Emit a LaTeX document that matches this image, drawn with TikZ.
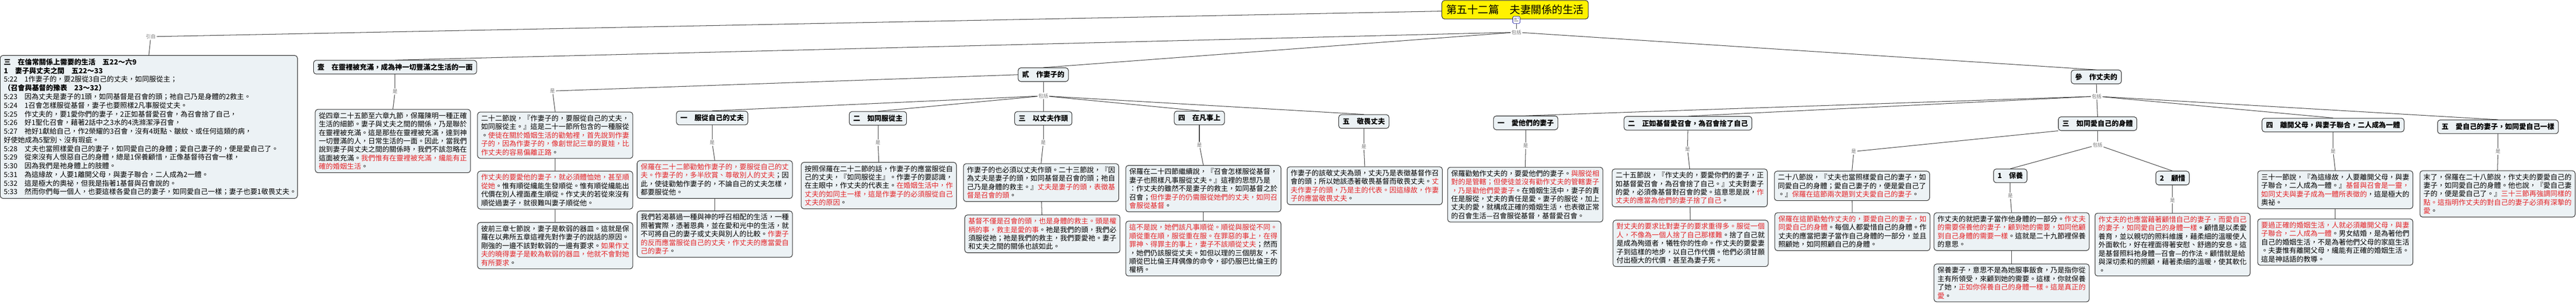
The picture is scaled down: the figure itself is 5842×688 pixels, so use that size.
\documentclass[tikz,border=0pt]{standalone}
\usepackage{fontspec}
\setmainfont{Noto Sans CJK TC}
\usepackage{tikz}

\definecolor{boxbg}{RGB}{236,242,245}
\definecolor{rednote}{RGB}{228,36,40}
\newcommand{\rd}[1]{\textcolor{rednote}{#1}}

\begin{document}
\begin{tikzpicture}[x=0.5pt,y=-0.5pt,
  topic/.style={draw=black!85,fill=boxbg,rounded corners=3pt,line width=0.6pt,
    font=\bfseries\fontsize{8}{9.6}\selectfont,inner xsep=4.5pt,inner ysep=0pt,
    minimum height=15.5pt,anchor=north},
  expl/.style={draw=black!85,fill=boxbg,rounded corners=3pt,line width=0.6pt,
    font=\fontsize{8}{9.6}\selectfont,text width=168pt,align=left,
    inner xsep=4pt,inner ysep=3.3pt,anchor=north},
  rel/.style={font=\fontsize{5.5}{6}\selectfont,text=black!55,inner sep=1pt},
  link/.style={draw=black!75,line width=0.6pt}]
  \useasboundingbox (0,0) rectangle (5842,688);

  % central topic
  \node[draw=black!85,fill=yellow,rounded corners=3pt,line width=0.6pt,
    font=\fontsize{12}{14}\selectfont,minimum height=21pt,inner xsep=5pt] (root) at (3436,22)
    {第五十二篇　夫妻關係的生活};
  \node[draw=blue!60!black,fill=white,rounded corners=1pt,minimum size=8pt,inner sep=0pt,
    path picture={\draw[black!60,line width=0.4pt] ([xshift=1.5pt,yshift=-2pt]path picture bounding box.north west) -- ++(3pt,0)
      ++(-3pt,-1.5pt) -- ++(3pt,0) ++(-3pt,-1.5pt) -- ++(4.5pt,0);
      \fill[blue!40] ([xshift=-1pt,yshift=-1pt]path picture bounding box.north east) rectangle ++(-2pt,-2pt);}] (note) at (3439,45) {};
  \node[rel] (inc0) at (3439,73) {包括};

  % verses
  \node[rel] (quote) at (342,83) {引自};
  \node[draw=black!85,fill=boxbg,rounded corners=3pt,line width=0.6pt,anchor=north,
    font=\fontsize{8}{9.8}\selectfont,text width=329pt,align=left,inner xsep=4pt,inner ysep=3.5pt]
    (verses) at (337.5,125) {%
    \textbf{三　在倫常關係上需要的生活　五22～六9}\\
    \textbf{1　妻子與丈夫之間　五22～33}\\
    5:22　1作妻子的，要2服從3自己的丈夫，如同服從主；\\
    \textbf{（召會與基督的豫表　23～32）}\\
    5:23　因為丈夫是妻子的1頭，如同基督是召會的頭；祂自己乃是身體的2救主。\\
    5:24　1召會怎樣服從基督，妻子也要照樣2凡事服從丈夫。\\
    5:25　作丈夫的，要1愛你們的妻子，2正如基督愛召會，為召會捨了自己，\\
    5:26　好1聖化召會，藉著2話中之3水的4洗滌潔淨召會，\\
    5:27　祂好1獻給自己，作2榮耀的3召會，沒有4斑點、皺紋、或任何這類的病，\\
    好使她成為5聖別、沒有瑕疵。\\
    5:28　丈夫也當照樣愛自己的妻子，如同愛自己的身體；愛自己妻子的，便是愛自己了。\\
    5:29　從來沒有人恨惡自己的身體，總是1保養顧惜，正像基督待召會一樣，\\
    5:30　因為我們是祂身體上的肢體。\\
    5:31　為這緣故，人要1離開父母，與妻子聯合，二人成為2一體。\\
    5:32　這是極大的奧祕，但我是指著1基督與召會說的。\\
    5:33　然而你們每一個人，也要這樣各愛自己的妻子，如同愛自己一樣；妻子也要1敬畏丈夫。};

  % 壹
  \node[topic] (w1) at (896,136) {壹　在靈裡被充滿，成為神一切豐滿之生活的一面};
  \node[rel] (w1is) at (896,207) {是};
  \node[expl] (w1a) at (891,247) {從四章二十五節至六章九節，保羅陳明一種正確\\
    生活的細節。妻子與丈夫之間的關係，乃是聯於\\在靈裡被充滿。這是那些在靈裡被充滿，達到神\\
    一切豐滿的人，日常生活的一面。因此，當我們\\說到妻子與丈夫之間的關係時，我們不該忽略在\\
    這面被充滿。\rd{我們惟有在靈裡被充滿，纔能有正}\\\rd{確的婚姻生活}。};

  % 貳
  \node[topic] (w2) at (2366,153) {貳　作妻子的};
  \node[rel] (w2is) at (1253,206) {是};
  \node[expl] (w2a) at (1259,253) {二十二節說，『作妻子的，要服從自己的丈夫，\\
    如同服從主。』這是二十一節所包含的一種服從\\。\rd{使徒在關於婚姻生活的勸勉裡，首先說到作妻}\\
    \rd{子的，因為作妻子的，像創世記三章的夏娃，比}\\\rd{作丈夫的容易偏離正路}。};
  \node[expl] (w2b) at (1259,387) {\rd{作丈夫的要愛他的妻子，就必須體恤她，甚至順}\\
    \rd{從她}。惟有順從纔能生發順從。惟有順從纔能出\\代價在別人裡面產生順從。作丈夫的若從來沒有\\
    順從過妻子，就很難叫妻子順從他。};
  \node[expl] (w2c) at (1259,503) {彼前三章七節說，妻子是軟弱的器皿。這就是保\\
    羅在以弗所五章這裡先對作妻子的說話的原因。\\剛強的一邊不該對軟弱的一邊有要求。\rd{如果作丈}\\
    \rd{夫的曉得妻子是較為軟弱的器皿，他就不會對她}\\\rd{有所要求}。};
  \node[rel] (inc2) at (2366,217) {包括};

  \node[topic] (wa) at (1615,251) {一　服從自己的丈夫};
  \node[rel] (waIs) at (1615,323) {是};
  \node[expl] (waA) at (1621,363) {\rd{保羅在二十二節勸勉作妻子的，要服從自己的丈}\\
    \rd{夫。作妻子的，多半欣賞、尊敬別人的丈夫}；因\\此，使徒勸勉作妻子的，不論自己的丈夫怎樣，\\
    都要服從他。};
  \node[expl] (waB) at (1621,477) {我們若渴慕過一種與神的呼召相配的生活，一種\\
    照著實際，憑著恩典，並在愛和光中的生活，就\\不可將自己的妻子或丈夫與別人的比較。\rd{作妻子}\\
    \rd{的反而應當服從自己的丈夫，作丈夫的應當愛自}\\\rd{己的妻子}。};

  \node[topic] (wb) at (1991,252) {二　如同服從主};
  \node[rel] (wbIs) at (1991,323) {是};
  \node[expl] (wbA) at (1993,367) {按照保羅在二十二節的話，作妻子的應當服從自\\
    己的丈夫，『如同服從主』。作妻子的要認識，\\在主眼中，作丈夫的代表主。\rd{在婚姻生活中，作}\\
    \rd{丈夫的如同主一樣，這是作妻子的必須服從自己}\\\rd{丈夫的原因}。};

  \node[topic] (wc) at (2366,252) {三　以丈夫作頭};
  \node[rel] (wcIs) at (2366,323) {是};
  \node[expl] (wcA) at (2361,370) {作妻子的也必須以丈夫作頭。二十三節說，『因\\
    為丈夫是妻子的頭，如同基督是召會的頭；祂自\\己乃是身體的救主。』\rd{丈夫是妻子的頭，表徵基}\\
    \rd{督是召會的頭}。};
  \node[expl] (wcB) at (2364,486) {\rd{基督不僅是召會的頭，也是身體的救主。頭是權}\\
    \rd{柄的事，救主是愛的事}。祂是我們的頭，我們必\\須服從祂；祂是我們的救主，我們要愛祂。妻子\\
    和丈夫之間的關係也該如此。};

  \node[topic] (wd) at (2720,251) {四　在凡事上};
  \node[rel] (wdIs) at (2720,328) {是};
  \node[expl] (wdA) at (2729,374) {保羅在二十四節繼續說，『召會怎樣服從基督，\\
    妻子也照樣凡事服從丈夫。』這裡的思想乃是\\：作丈夫的雖然不是妻子的救主，如同基督之於\\
    召會；\rd{但作妻子的仍需服從她們的丈夫，如同召}\\\rd{會服從基督}。};
  \node[expl] (wdB) at (2729,500) {\rd{這不是說，她們該凡事順從。順從與服從不同。}\\
    \rd{順從重在順，服從重在服。在罪惡的事上，在得}\\\rd{罪神、得罪主的事上，妻子不該順從丈夫}；然而\\
    ，她們仍該服從丈夫。如但以理的三個朋友，不\\順從巴比倫王拜偶像的命令，卻仍服巴比倫王的\\
    權柄。};

  \node[topic] (we) at (3093,259) {五　敬畏丈夫};
  \node[rel] (weIs) at (3093,332) {是};
  \node[expl] (weA) at (3095,377) {作妻子的該敬丈夫為頭，丈夫乃是表徵基督作召\\
    會的頭；所以她該憑著敬畏基督而敬畏丈夫。\rd{丈}\\\rd{夫作妻子的頭，乃是主的代表。因這緣故，作妻}\\
    \rd{子的應當敬畏丈夫}。};

  % 參
  \node[topic] (h3) at (4754,158) {參　作丈夫的};
  \node[rel] (inc3) at (4755,218) {包括};

  \node[topic] (ha) at (3460,262) {一　愛他們的妻子};
  \node[rel] (haIs) at (3460,330) {是};
  \node[expl] (haA) at (3459,378) {保羅勸勉作丈夫的，要愛他們的妻子。\rd{與服從相}\\
    \rd{對的是管轄；但使徒並沒有勸作丈夫的管轄妻子}\\\rd{，乃是勸他們愛妻子}。在婚姻生活中，妻子的責\\
    任是服從，丈夫的責任是愛。妻子的服從，加上\\丈夫的愛，就構成正確的婚姻生活，也表徵正常\\
    的召會生活—召會服從基督，基督愛召會。};

  \node[topic] (hb) at (3828,263) {二　正如基督愛召會，為召會捨了自己};
  \node[rel] (hbIs) at (3827,338) {是};
  \node[expl] (hbA) at (3832,382) {二十五節說，『作丈夫的，要愛你們的妻子，正\\
    如基督愛召會，為召會捨了自己。』丈夫對妻子\\的愛，必須像基督對召會的愛。這意思是說，\rd{作}\\
    \rd{丈夫的應當為他們的妻子捨了自己}。};
  \node[expl] (hbB) at (3834,498) {\rd{對丈夫的要求比對妻子的要求重得多。服從一個}\\
    \rd{人，不像為一個人捨了自己那樣難}。捨了自己就\\是成為殉道者，犧牲你的性命。作丈夫的要愛妻\\
    子到這樣的地步，以自己作代價。他們必須甘願\\付出極大的代價，甚至為妻子死。};

  \node[topic] (hc) at (4757,264) {三　如同愛自己的身體};
  \node[rel] (hcIs) at (4204,343) {是};
  \node[expl] (hcA) at (4200,387) {二十八節說，『丈夫也當照樣愛自己的妻子，如\\
    同愛自己的身體；愛自己妻子的，便是愛自己了\\。』\rd{保羅在這節兩次題到丈夫愛自己的妻子}。};
  \node[expl] (hcB) at (4201,481) {\rd{保羅在這節勸勉作丈夫的，要愛自己的妻子，如}\\
    \rd{同愛自己的身體}。每個人都愛惜自己的身體。作\\丈夫的應當把妻子當作自己身體的一部分，並且\\
    照顧她，如同照顧自己的身體。};
  \node[rel] (incc) at (4757,328) {包括};

  \node[topic] (hc1) at (4559,382) {1　保養};
  \node[rel] (hc1Is) at (4559,443) {是};
  \node[expl] (hc1A) at (4562,481) {作丈夫的就把妻子當作他身體的一部分。\rd{作丈夫}\\
    \rd{的需要保養他的妻子，顧到她的需要，如同他顧}\\\rd{到自己身體的需要一樣}。這就是二十九節裡保養\\
    的意思。};
  \node[expl] (hc1B) at (4562,597) {保養妻子，意思不是為她服事飯食，乃是指你從\\
    主有所領受，來顧到她的需要。這樣，你就保養\\了她，\rd{正如你保養自己的身體一樣。這是真正的}\\
    \rd{愛}。};

  \node[topic] (hc2) at (4927,387) {2　顧惜};
  \node[rel] (hc2Is) at (4927,453) {是};
  \node[expl] (hc2A) at (4927,482) {\rd{作丈夫的也應當藉著顧惜自己的妻子，而愛自己}\\
    \rd{的妻子，如同愛自己的身體一樣}。顧惜是以柔愛\\養育，並以親切的照料維護，藉柔細的溫暖使人\\
    外面軟化，好在裡面得著安慰、舒適的安息。這\\是基督照料祂身體—召會—的作法。顧惜就是給\\
    與深切柔和的照顧，藉著柔細的溫暖，使其軟化\\。};

  \node[topic] (hd) at (5291,267) {四　離開父母，與妻子聯合，二人成為一體};
  \node[rel] (hdIs) at (5291,342) {是};
  \node[expl] (hdA) at (5296,386) {三十一節說，『為這緣故，人要離開父母，與妻\\
    子聯合，二人成為一體。』\rd{基督與召會是一靈，}\\\rd{如同丈夫與妻子成為一體所表徵的}，這是極大的\\
    奧祕。};
  \node[expl] (hdB) at (5296,495) {\rd{要過正確的婚姻生活，人就必須離開父母，與妻}\\
    \rd{子聯合，二人成為一體}。男女結婚，是為著他們\\自己的婚姻生活，不是為著他們父母的家庭生活\\
    。夫妻惟有離開父母，纔能有正確的婚姻生活。\\這是神話語的教導。};

  \node[topic] (he) at (5665,271) {五　愛自己的妻子，如同愛自己一樣};
  \node[rel] (heIs) at (5665,343) {是};
  \node[expl] (heA) at (5664,386) {末了，保羅在二十八節說，作丈夫的要愛自己的\\
    妻子，如同愛自己的身體。他也說，『愛自己妻\\子的，便是愛自己了。』\rd{三十三節再強調同樣的}\\
    \rd{點。這指明作丈夫的對自己的妻子必須有深摯的}\\\rd{愛}。};

  % connectors
  \foreach \a/\b in {root/quote, quote/verses.north, note/inc0,
      inc0/w1.north, inc0/w2.north, inc0/h3.north,
      w1/w1is, w1is/w1a.north,
      w2.west/w2is, w2is/w2a.north, w2a/w2b, w2b/w2c,
      w2/inc2, inc2/wa.north, inc2/wb.north, inc2/wc.north, inc2/wd.north, inc2/we.north,
      wa/waIs, waIs/waA.north, waA/waB, wb/wbIs, wbIs/wbA.north,
      wc/wcIs, wcIs/wcA.north, wcA/wcB, wd/wdIs, wdIs/wdA.north, wdA/wdB,
      we/weIs, weIs/weA.north,
      h3/inc3, inc3/ha.north, inc3/hb.north, inc3/hc.north, inc3/hd.north, inc3/he.north,
      ha/haIs, haIs/haA.north, hb/hbIs, hbIs/hbA.north, hbA/hbB,
      hc.south west/hcIs, hcIs/hcA.north, hcA/hcB,
      hc/incc, incc/hc1.north, incc/hc2.north,
      hc1/hc1Is, hc1Is/hc1A.north, hc1A/hc1B, hc2/hc2Is, hc2Is/hc2A.north,
      hd/hdIs, hdIs/hdA.north, hdA/hdB, he/heIs, heIs/heA.north}
    \draw[link] (\a) -- (\b);
\end{tikzpicture}
\end{document}
